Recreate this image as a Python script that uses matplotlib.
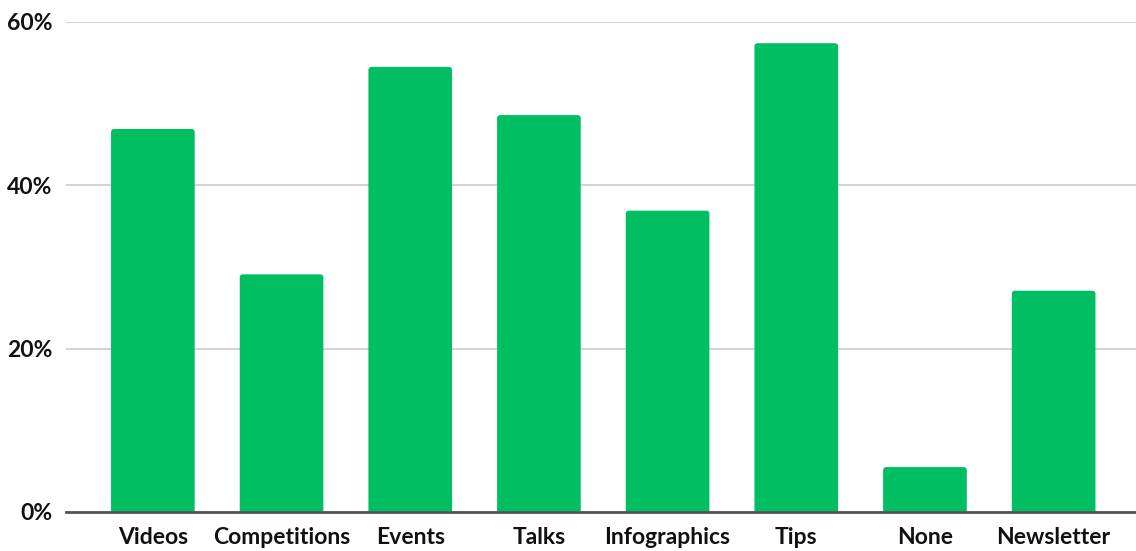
import matplotlib
matplotlib.use("Agg")
import matplotlib.pyplot as plt
from matplotlib.patches import FancyBboxPatch
from matplotlib.ticker import FuncFormatter

categories = ["Videos", "Competitions", "Events", "Talks", "Infographics", "Tips", "None", "Newsletter"]
values = [46.9, 29.1, 54.5, 48.6, 36.9, 57.4, 5.5, 27.1]
yticks = [0, 20, 40, 60]

plt.rcParams['font.family'] = ['Lato', 'DejaVu Sans']

W, H = 1136, 551
fig = plt.figure(figsize=(W / 100, H / 100), dpi=100)
ax = fig.add_axes([66 / W, 39 / H, (W - 66) / W, (H - 39 - 22) / H])

color = "#00BF63"
bw = 0.65
x = list(range(len(categories)))
bars = ax.bar(x, values, width=bw, color=color, alpha=0)
for b in bars:
    x0 = b.get_x()
    h = b.get_height()
    p = FancyBboxPatch((x0, -2), bw, h + 2,
                       boxstyle="round,pad=0,rounding_size=0.025",
                       mutation_aspect=15, facecolor=color, edgecolor="none",
                       zorder=2, clip_on=True)
    ax.add_patch(p)

ax.set_xlim(-0.675, 7.64)
ax.set_ylim(0, 60)
ax.set_yticks(yticks)
ax.yaxis.set_major_formatter(FuncFormatter(lambda v, p: f"{int(v)}%"))
ax.set_xticks(x)
ax.set_xticklabels(categories)
ax.grid(axis="y", color="#d0d0d0", linewidth=1.3, zorder=0)
ax.set_axisbelow(True)
for s in ["top", "right", "left"]:
    ax.spines[s].set_visible(False)
ax.spines["bottom"].set_color("#555555")
ax.spines["bottom"].set_linewidth(2)
ax.spines["bottom"].set_zorder(3)
ax.tick_params(axis="both", length=0, labelsize=16.5, colors="#111111")
ax.tick_params(axis="y", pad=10)
ax.tick_params(axis="x", pad=11)
for lab in ax.get_xticklabels() + ax.get_yticklabels():
    lab.set_fontweight("bold")

fig.savefig("out.png", dpi=100, facecolor="white")
